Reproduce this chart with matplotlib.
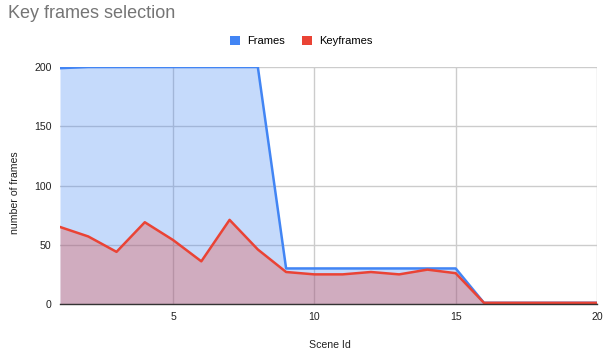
import matplotlib
matplotlib.use("Agg")
import matplotlib.pyplot as plt
from matplotlib.patches import Patch

plt.rcParams['font.family'] = ['Liberation Sans', 'DejaVu Sans']

scene_ids = list(range(1, 21))
frames = [199, 200, 200, 200, 200, 200, 200, 200, 30, 30, 30, 30, 30, 30, 30, 1, 1, 1, 1, 1]
keyframes = [65, 57, 44, 69, 54, 36, 71, 46, 27, 25, 25, 27, 25, 29, 26, 1, 1, 1, 1, 1]
x_ticks = [5, 10, 15, 20]
y_ticks = [0, 50, 100, 150, 200]

BLUE = '#4285F4'
RED = '#EA4335'

fig = plt.figure(figsize=(6.03, 3.55), dpi=100)
ax = fig.add_axes([60 / 603, 1 - 304 / 355, 537 / 603, 237 / 355])

ax.fill_between(scene_ids, frames, 0, color=BLUE, alpha=0.3, linewidth=0, zorder=2)
ax.fill_between(scene_ids, keyframes, 0, color=RED, alpha=0.3, linewidth=0, zorder=3)
ax.plot(scene_ids, frames, color=BLUE, linewidth=1.8, zorder=4, solid_joinstyle='round')
ax.plot(scene_ids, keyframes, color=RED, linewidth=1.8, zorder=5, solid_joinstyle='round')

ax.set_xlim(1, 20)
ax.set_ylim(0, 200)
ax.set_xticks(x_ticks)
ax.set_yticks(y_ticks)
ax.grid(True, color='#cccccc', linewidth=1, zorder=1)
ax.set_axisbelow(True)
for side in ['top', 'right', 'left']:
    ax.spines[side].set_visible(False)
ax.spines['bottom'].set_color('#333333')
ax.spines['bottom'].set_linewidth(1)
ax.spines['bottom'].set_zorder(6)
ax.tick_params(axis='both', length=0, labelsize=7.6, colors='#222222')
ax.tick_params(axis='x', pad=6)
ax.tick_params(axis='y', pad=6)
for lbl in ax.get_xticklabels():
    lbl.set_clip_on(False)

ax.set_xlabel('Scene Id', fontsize=7.6, color='#222222')
ax.xaxis.set_label_coords((330 - 60) / 537, -(345 - 304) / 237)
ax.xaxis.label.set_va('center')
ax.set_ylabel('number of frames', fontsize=7.6, color='#222222')
ax.yaxis.set_label_coords((15 - 60) / 537, (304 - 193) / 237)
ax.yaxis.label.set_va('center')

fig.text(8 / 603, 1 - 14 / 355, 'Key frames selection', fontsize=13, color='#757575',
         ha='left', va='center')

handles = [Patch(facecolor=BLUE, edgecolor='none'), Patch(facecolor=RED, edgecolor='none')]
fig.legend(handles, ['Frames', 'Keyframes'], loc='center', bbox_to_anchor=(301 / 603, 1 - 41 / 355),
           ncol=2, frameon=False, fontsize=8, handlelength=0.95, handleheight=0.95,
           handletextpad=0.6, columnspacing=1.5)

fig.savefig('out.png', dpi=100)
